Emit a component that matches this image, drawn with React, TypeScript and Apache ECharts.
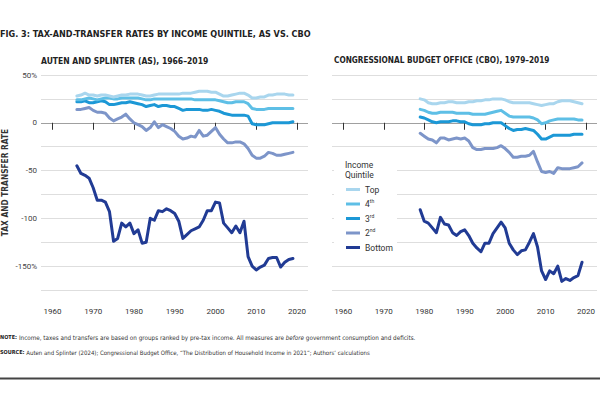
import React, { useEffect, useRef } from "react";
import * as echarts from "echarts";

const asYears = [
  1966, 1967, 1968, 1969, 1970, 1971, 1972, 1973, 1974, 1975,
  1976, 1977, 1978, 1979, 1980, 1981, 1982, 1983, 1984, 1985,
  1986, 1987, 1988, 1989, 1990, 1991, 1992, 1993, 1994, 1995,
  1996, 1997, 1998, 1999, 2000, 2001, 2002, 2003, 2004, 2005,
  2006, 2007, 2008, 2009, 2010, 2011, 2012, 2013, 2014, 2015,
  2016, 2017, 2018, 2019,
];
const asTop = [
  28, 29, 31, 29, 29, 28, 29, 29, 28, 27,
  28, 29, 29, 30, 30, 30, 29, 28, 28, 29,
  30, 30, 30, 30, 30, 30, 31, 31, 31, 32,
  33, 33, 33, 32, 32, 30, 28, 28, 29, 30,
  31, 31, 29, 26, 26, 27, 27, 29, 29, 30,
  30, 30, 29, 29,
];
const as4th = [
  24, 24, 25, 26, 25, 24, 25, 26, 26, 25,
  25, 26, 26, 26, 26, 26, 25, 24, 24, 25,
  25, 25, 25, 25, 25, 25, 25, 25, 25, 24,
  24, 24, 24, 24, 24, 23, 22, 21, 21, 22,
  22, 22, 20, 15, 14, 14, 14, 15, 15, 15,
  15, 15, 15, 15,
];
const as3rd = [
  22, 22, 23, 21, 21, 22, 23, 22, 19, 19,
  20, 21, 21, 22, 21, 20, 19, 17, 18, 19,
  17, 18, 18, 17, 17, 15, 13, 14, 14, 14,
  14, 13, 13, 14, 13, 12, 10, 9, 8, 8,
  8, 8, 7, -1, -2, -2, -2, -1, 0, 0,
  0, 0, 0, 1,
];
const as2nd = [
  14, 14, 15, 16, 13, 11, 11, 10, 5, 2,
  4, 6, 9, 4, 0, -2, -4, -8, -5, 1,
  -5, -2, -4, -6, -9, -14, -17, -16, -14, -15,
  -8, -14, -13, -9, -5, -12, -17, -21, -21, -20,
  -20, -22, -27, -34, -37, -37, -35, -31, -32, -34,
  -34, -33, -32, -31,
];
const asBottom = [
  -45, -53, -55, -58, -68, -81, -81, -83, -93, -124,
  -121, -105, -109, -105, -116, -112, -126, -125, -100, -102,
  -92, -93, -90, -92, -95, -103, -121, -117, -113, -111,
  -109, -102, -92, -92, -83, -84, -105, -110, -115, -108,
  -115, -103, -140, -150, -154, -151, -149, -142, -141, -141,
  -151, -146, -143, -142,
];

const cboYears = [
  1979, 1980, 1981, 1982, 1983, 1984, 1985, 1986, 1987, 1988,
  1989, 1990, 1991, 1992, 1993, 1994, 1995, 1996, 1997, 1998,
  1999, 2000, 2001, 2002, 2003, 2004, 2005, 2006, 2007, 2008,
  2009, 2010, 2011, 2012, 2013, 2014, 2015, 2016, 2017, 2018,
  2019,
];
const cboTop = [
  25, 24, 21, 20, 20, 21, 21, 22, 22, 21,
  21, 21, 22, 22, 23, 23, 24, 24, 25, 25,
  25, 24, 22, 21, 21, 21, 21, 21, 20, 19,
  18, 19, 20, 20, 22, 23, 23, 23, 22, 21,
  20,
];
const cbo4th = [
  14, 13, 11, 10, 10, 11, 11, 11, 11, 10,
  10, 10, 10, 9, 9, 9, 9, 10, 11, 12,
  13, 10, 7, 6, 6, 6, 6, 6, 5, 3,
  -1, 0, 2, 3, 4, 4, 4, 4, 4, 3,
  3,
];
const cbo3rd = [
  6, 5, 3, 1, 0, 1, 1, 1, 2, 2,
  1, 1, -1, -2, -2, -2, -1, -1, 0, 0,
  0, -3, -6, -8, -7, -7, -6, -7, -8, -12,
  -17, -17, -15, -13, -13, -13, -13, -13, -12, -12,
  -12,
];
const cbo2nd = [
  -11, -14, -17, -18, -21, -16, -16, -18, -17, -16,
  -17, -16, -19, -26, -28, -28, -27, -27, -27, -26,
  -24, -27, -31, -36, -36, -35, -35, -34, -30, -41,
  -51, -52, -51, -53, -47, -48, -48, -48, -47, -46,
  -42,
];
const cboBottom = [
  -91, -103, -105, -110, -115, -99, -106, -107, -115, -118,
  -114, -112, -118, -126, -131, -135, -126, -126, -116, -110,
  -104, -110, -126, -133, -138, -134, -133, -125, -116, -130,
  -155, -164, -155, -158, -150, -166, -163, -165, -162, -160,
  -146,
];

const quintiles = ["Top", "4th", "3rd", "2nd", "Bottom"];
const colors = ["#a9d6ee", "#5ebfe6", "#1c98d6", "#7d95c9", "#213b94"];
const xTicks = [1960, 1970, 1980, 1990, 2000, 2010, 2020];
const yLabelMap: Record<string, string> = {
  "50": "50%",
  "0": "0",
  "-50": "-50",
  "-100": "-100",
  "-150": "-150%",
};

const FONT = "'Liberation Sans Narrow', 'DejaVu Sans Condensed', Roboto, sans-serif";
const AXFONT = "Roboto, 'Noto Sans', sans-serif";

export default function App() {
  const ref = useRef<HTMLDivElement>(null);
  useEffect(() => {
    if (!ref.current) return;
    const chart = echarts.init(ref.current, undefined, { renderer: "svg" });
    const asSets = [asTop, as4th, as3rd, as2nd, asBottom];
    const cboSets = [cboTop, cbo4th, cbo3rd, cbo2nd, cboBottom];
    const splitColors = ["#dedede", "#dedede", "#dedede", "#dedede", "#dedede", "#dedede", "#dedede", "#a0a0a0", "#dedede", "#dedede"];

    const mkX = (gi: number) => ({
      type: "value",
      gridIndex: gi,
      min: 1957.2,
      max: 2022.7,
      offset: 6,
      axisLine: { show: false },
      axisTick: { show: true, length: 7, customValues: xTicks, lineStyle: { color: "#333", width: 1 } },
      axisLabel: {
        customValues: xTicks,
        margin: 11,
        fontSize: 8,
        color: "#333",
        fontFamily: AXFONT,
        formatter: (v: number) => String(Math.round(v)),
      },
      splitLine: { show: false },
    });
    const mkY = (gi: number) => ({
      type: "value",
      gridIndex: gi,
      min: -175,
      max: 50,
      interval: 25,
      axisLine: { show: false },
      axisTick: { show: false },
      axisLabel: {
        show: gi === 0,
        margin: 4,
        fontSize: 8,
        color: "#444",
        fontFamily: AXFONT,
        formatter: (v: number) => yLabelMap[String(v)] ?? "",
      },
      splitLine: { show: true, lineStyle: { color: splitColors, width: 1 } },
      name: gi === 0 ? "TAX AND TRANSFER RATE" : "",
      nameLocation: "middle",
      nameGap: 32,
      nameRotate: 90,
      nameTextStyle: { fontSize: 8.3, fontWeight: "bold", color: "#333", fontFamily: FONT },
    });

    const series: any[] = [];
    [4, 3, 2, 1, 0].forEach((qi) => {
      series.push({
        name: quintiles[qi],
        type: "line",
        xAxisIndex: 0,
        yAxisIndex: 0,
        data: asYears.map((y, i) => [y, asSets[qi][i]]),
        showSymbol: false,
        symbol: "none",
        lineStyle: { color: colors[qi], width: 3, join: "round", cap: "round" },
        itemStyle: { color: colors[qi] },
      });
      series.push({
        name: quintiles[qi],
        type: "line",
        xAxisIndex: 1,
        yAxisIndex: 1,
        data: cboYears.map((y, i) => [y, cboSets[qi][i]]),
        showSymbol: false,
        symbol: "none",
        lineStyle: { color: colors[qi], width: 3, join: "round", cap: "round" },
        itemStyle: { color: colors[qi] },
      });
    });

    chart.setOption({
      animation: false,
      grid: [
        { left: 40, top: 75, width: 268, height: 215 },
        { left: 332, top: 75, width: 265, height: 215 },
      ],
      xAxis: [mkX(0), mkX(1)],
      yAxis: [mkY(0), mkY(1)],
      legend: {
        data: quintiles,
        orient: "vertical",
        left: 346,
        top: 184,
        icon: "rect",
        itemWidth: 14,
        itemHeight: 3,
        itemGap: 3.5,
        padding: 0,
        z: 6,
        textStyle: {
          fontSize: 8.5,
          lineHeight: 11,
          color: "#333",
          fontFamily: AXFONT,
          rich: { s: { fontSize: 5, lineHeight: 11, verticalAlign: "top", color: "#333", fontFamily: AXFONT } },
        },
        formatter: (name: string) => name.replace(/^(\d)(\w+)$/, "$1{s|$2}"),
      },
      graphic: [
        {
          type: "text",
          left: 0,
          top: 29,
          style: {
            text: "FIG. 3: TAX-AND-TRANSFER RATES BY INCOME QUINTILE, AS VS. CBO",
            fontSize: 9,
            fontWeight: "bold",
            fill: "#222",
            fontFamily: FONT,
          },
        },
        {
          type: "text",
          left: 41,
          top: 56,
          style: { text: "AUTEN AND SPLINTER (AS), 1966–2019", fontSize: 8.5, fontWeight: "bold", fill: "#222", fontFamily: FONT },
        },
        {
          type: "text",
          left: 334,
          top: 56,
          style: { text: "CONGRESSIONAL BUDGET OFFICE (CBO), 1979–2019", fontSize: 8.2, fontWeight: "bold", fill: "#222", fontFamily: FONT },
        },
        {
          type: "rect",
          z: 3,
          shape: { x: 334, y: 157, width: 63, height: 98 },
          style: { fill: "#fff" },
        },
        {
          type: "text",
          z: 6,
          left: 345,
          top: 160,
          style: { text: "Income\nQuintile", fontSize: 8.5, lineHeight: 10, fill: "#333", fontFamily: AXFONT },
        },
        {
          type: "text",
          left: 0,
          top: 334,
          style: {
            text: "{b|NOTE:} Income, taxes and transfers are based on groups ranked by pre-tax income. All measures are {i|before} government consumption and deficits.",
            fontSize: 6.3,
            fill: "#333",
            fontFamily: FONT,
            rich: {
              b: { fontSize: 5.5, fontWeight: "bold", fill: "#222", fontFamily: FONT },
              i: { fontSize: 6.3, fontStyle: "italic", fill: "#333", fontFamily: FONT },
            },
          },
        },
        {
          type: "text",
          left: 0,
          top: 349,
          style: {
            text: "{b|SOURCE:} Auten and Splinter (2024); Congressional Budget Office, “The Distribution of Household Income in 2021”; Authors’ calculations",
            fontSize: 6,
            fill: "#333",
            fontFamily: FONT,
            rich: {
              b: { fontSize: 5.5, fontWeight: "bold", fill: "#222", fontFamily: FONT },
            },
          },
        },
        {
          type: "line",
          shape: { x1: 0, y1: 378.5, x2: 600, y2: 378.5 },
          style: { stroke: "#444", lineWidth: 2 },
        },
      ],
      series,
    });
    return () => chart.dispose();
  }, []);
  return (
    <div
      ref={ref}
      style={{ position: "absolute", left: 0, top: 0, width: 600, height: 397, background: "#fff" }}
    />
  );
}
